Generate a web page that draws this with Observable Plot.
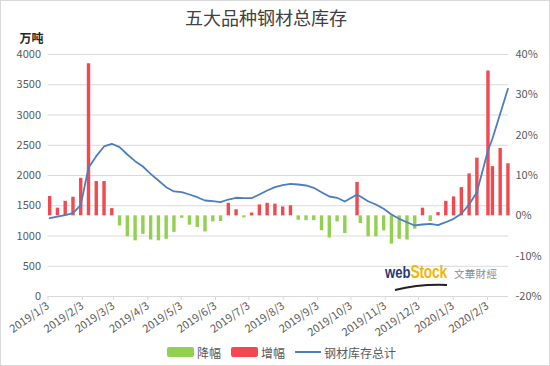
<!DOCTYPE html>
<html>
<head>
<meta charset="utf-8">
<script src="https://cdn.jsdelivr.net/npm/d3@7"></script>
<script src="https://cdn.jsdelivr.net/npm/@observablehq/plot@0.6"></script>
<style>
  body { margin: 0; background: #fff; }
  #wrap { position: relative; width: 550px; height: 366px; overflow: hidden; background: #fff;
          font-family: "Noto Sans CJK SC", "Microsoft YaHei", sans-serif; }
  #frame { position: absolute; left: 0; top: 0; width: 550px; height: 366px; box-sizing: border-box;
           border: 1px solid #d9d9d9; pointer-events: none; }
  #chart { position: absolute; left: 0; top: 0; }
  #title { position: absolute; left: 0; top: 4px; width: 532px; text-align: center; font-size: 18px;
           line-height: 26px; color: #404040; }
  #legend { position: absolute; left: 167px; top: 343px; height: 18px; display: flex; align-items: center;
            font-size: 12px; color: #595959; }
  #legend .sw { display: inline-block; width: 27px; height: 10px; border-radius: 2px; margin-right: 3px; }
  #legend .ln { display: inline-block; width: 26px; height: 2px; margin-right: 3px; }
  #legend .item { display: flex; align-items: center; margin-right: 10px; }
  #logo { position: absolute; left: 385px; top: 259px; height: 24px; white-space: nowrap;
          transform: scaleX(0.77); transform-origin: left top; }
  #logo .web { font: bold 17px "Liberation Sans", sans-serif; color: #1f3c73; }
  #logo .stock { font: bold 18px "Liberation Sans", sans-serif; color: #f2b705; letter-spacing: -0.3px; }
  #cn { position: absolute; left: 454px; top: 266px; font-size: 10.5px; color: #8c8c8c; letter-spacing: 0.3px; }
  #swoosh { position: absolute; left: 385px; top: 282px; }
</style>
</head>
<body>
<div id="wrap">
  <div id="chart"></div>
  <div id="title">五大品种钢材总库存</div>
  <div id="logo"><span class="web">web</span><span class="stock">Stock</span></div>
  <div id="cn">文華財經</div>
  <svg id="swoosh" width="70" height="10"><path d="M10,8 Q34,2 62,3" stroke="#222" stroke-width="2" fill="none"/></svg>
  <div id="legend">
    <span class="item"><span class="sw" style="background:#92d050"></span>降幅</span>
    <span class="item"><span class="sw" style="background:#f2484f"></span>增幅</span>
    <span class="item"><span class="ln" style="background:#4a7ec0"></span>钢材库存总计</span>
  </div>
  <div id="frame"></div>
</div>
<script>
// Report dates (weekly)
const dates = [
  "2019-01-04","2019-01-11","2019-01-18","2019-01-25","2019-02-01","2019-02-08","2019-02-15","2019-02-22",
  "2019-03-01","2019-03-08","2019-03-15","2019-03-22","2019-03-29","2019-04-05","2019-04-12","2019-04-19",
  "2019-04-26","2019-05-03","2019-05-10","2019-05-17","2019-05-24","2019-05-31","2019-06-07","2019-06-14",
  "2019-06-21","2019-06-28","2019-07-05","2019-07-12","2019-07-19","2019-07-26","2019-08-02","2019-08-09",
  "2019-08-16","2019-08-23","2019-08-30","2019-09-06","2019-09-13","2019-09-20","2019-09-27","2019-10-08",
  "2019-10-11","2019-10-18","2019-10-25","2019-11-01","2019-11-08","2019-11-15","2019-11-22","2019-11-29",
  "2019-12-06","2019-12-13","2019-12-20","2019-12-27","2020-01-03","2020-01-10","2020-01-17","2020-01-24",
  "2020-02-03","2020-02-07","2020-02-14","2020-02-21"
];
// Weekly change, % (right axis): negative = 降幅, positive = 增幅
const pctChange = [
  4.8, 1.9, 3.6, 4.6, 9.3, 37.7, 8.5, 8.5,
  1.8, -2.5, -5.2, -6.2, -4.6, -6.0, -6.2, -5.8,
  -4.1, -0.6, -2.3, -2.9, -4.0, -1.5, -1.4, 3.1,
  1.5, -0.5, 0.7, 2.7, 3.1, 2.9, 2.2, 2.5,
  -1.1, -1.2, -1.2, -3.7, -5.5, -1.5, -4.4, 8.3,
  -1.9, -5.2, -5.2, -3.7, -7.0, -5.8, -6.0, -3.3,
  1.9, -1.4, 0.8, 3.6, 4.7, 7.0, 10.4, 14.3,
  35.9, 12.2, 16.7, 12.9
];
// 钢材库存总计, 万吨 (left axis)
const stockTotal = [
  1294, 1322, 1345, 1380, 1510, 2130, 2320, 2480,
  2524, 2468, 2347, 2237, 2149, 2028, 1917, 1807,
  1736, 1724, 1686, 1641, 1587, 1575, 1559, 1603,
  1632, 1625, 1625, 1686, 1752, 1807, 1840, 1860,
  1851, 1835, 1797, 1724, 1653, 1632, 1570, 1686,
  1653, 1575, 1521, 1450, 1355, 1284, 1228, 1174,
  1190, 1202, 1179, 1228, 1284, 1367, 1521, 1724,
  2413, 2607, 3020, 3433
];
const xTickLabels = ["2019/1/3","2019/2/3","2019/3/3","2019/4/3","2019/5/3","2019/6/3","2019/7/3",
  "2019/8/3","2019/9/3","2019/10/3","2019/11/3","2019/12/3","2020/1/3","2020/2/3"];
const leftTicks = [0, 500, 1000, 1500, 2000, 2500, 3000, 3500, 4000];
const rightTicks = [-20, -10, 0, 10, 20, 30, 40];

const GREEN = "#92d050", RED = "#f2484f", BLUE = "#4a7ec0";
const parseTick = d3.utcParse("%Y/%m/%d");
// right axis (-20%..40%) shares the left axis range (0..4000)
const toLeft = p => (p + 20) * 4000 / 60;
const fromLeft = v => v * 60 / 4000 - 20;
const halfDay = 12 * 3600 * 1000;

const rows = dates.map((d, i) => ({
  date: new Date(+new Date(d + "T00:00:00Z") + halfDay),
  pct: pctChange[i],
  stock: stockTotal[i]
}));
const tickDates = xTickLabels.map(parseTick);

const chart = Plot.plot({
  width: 550,
  height: 366,
  marginTop: 54,
  marginBottom: 70,
  marginLeft: 47.5,
  marginRight: 42,
  style: { fontFamily: '"Noto Sans CJK SC", "Microsoft YaHei", sans-serif', fontSize: "11px", color: "#595959", background: "transparent" },
  x: { type: "utc", domain: [new Date("2019-01-03T00:00:00Z"), new Date("2020-02-22T00:00:00Z")] },
  y: { domain: [0, 4000] },
  marks: [
    Plot.gridY(leftTicks.filter(d => d > 0), { stroke: "#d9d9d9", strokeOpacity: 1 }),
    Plot.axisY(leftTicks, { anchor: "left", tickSize: 0, tickPadding: 7, label: null, tickFormat: d => String(d) }),
    Plot.axisY(rightTicks.map(toLeft), { anchor: "right", tickSize: 0, tickPadding: 7, label: null,
      tickFormat: d => `${Math.round(fromLeft(d))}%` }),
    Plot.ruleY([0], { stroke: "#d9d9d9" }),
    Plot.axisX(tickDates, { anchor: "bottom", tickSize: 4, tickPadding: 4, tickRotate: -35, label: null,
      stroke: "#d9d9d9", tickFormat: (d, i) => xTickLabels[i] }),
    Plot.ruleX(rows, { x: "date", y1: () => toLeft(0), y2: d => toLeft(d.pct),
      stroke: d => d.pct < 0 ? GREEN : RED, strokeWidth: 3.4 }),
    Plot.line(rows, { x: "date", y: "stock", stroke: BLUE, strokeWidth: 1.8 }),
    Plot.text(["万吨"], { frameAnchor: "top-left", dx: -16.5, dy: -15, textAnchor: "middle", lineAnchor: "middle",
      fontSize: 12, fill: "#262626", fontWeight: "bold" })
  ]
});
document.getElementById("chart").appendChild(chart);
</script>
</body>
</html>
